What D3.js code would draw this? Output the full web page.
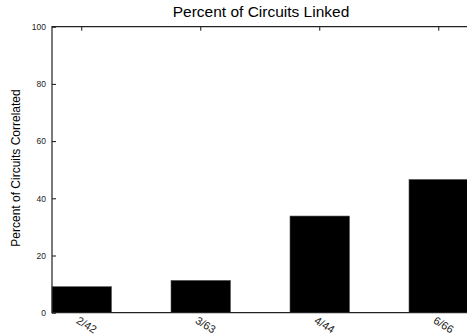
<!DOCTYPE html>
<html>
<head>
<meta charset="utf-8">
<script src="https://cdn.jsdelivr.net/npm/d3@7"></script>
<style>
  body { margin: 0; background: #fff; }
  text { font-family: "Liberation Sans", Arial, sans-serif; }
</style>
</head>
<body>
<div id="chart"></div>
<script>
// data
var labels = ['2/42', '3/63', '4/44', '6/66'];
var percent = [9.1, 11.3, 33.8, 46.6];
var yTicks = [0, 20, 40, 60, 80, 100];

var margin = {top: 26.7, right: 0, bottom: 22.3, left: 52},
    width = 416.5,
    height = 335 - margin.top - margin.bottom;

var svg = d3.select("#chart").append("svg")
    .attr("width", 467)
    .attr("height", 335)
  .append("g")
    .attr("transform", "translate(" + margin.left + "," + margin.top + ")");

var x = d3.scaleBand().domain(labels).range([0, width]).paddingInner(0.5).paddingOuter(0);
var y = d3.scaleLinear().domain([0, 100]).range([height, 0]);

// bars
svg.selectAll(".bar")
    .data(percent)
  .enter().append("rect")
    .attr("class", "bar")
    .attr("x", function(d, i) { return x(labels[i]); })
    .attr("width", x.bandwidth())
    .attr("y", function(d) { return y(d); })
    .attr("height", function(d) { return height - y(d); })
    .attr("fill", "#000")
    .attr("stroke", "#555")
    .attr("stroke-width", 0.6);

// left axis, ticks pointing inwards
var yAxis = svg.append("g")
    .call(d3.axisLeft(y).tickValues(yTicks).tickSizeInner(-4).tickSizeOuter(0).tickPadding(6));
yAxis.select(".domain").remove();
yAxis.selectAll("text").attr("font-size", "8.5px").attr("fill", "#222");
yAxis.selectAll("line").attr("stroke", "#111");

// top ticks at bar centres
var topAxis = svg.append("g")
    .call(d3.axisTop(x).tickSizeInner(-4).tickSizeOuter(0).tickFormat(""));
topAxis.select(".domain").remove();
topAxis.selectAll("line").attr("stroke", "#111");

// bottom labels, slanted
var xAxis = svg.append("g")
    .attr("transform", "translate(0," + height + ")")
    .call(d3.axisBottom(x).tickSize(0).tickPadding(0));
xAxis.select(".domain").remove();
xAxis.selectAll("text")
    .attr("font-size", "11px")
    .attr("fill", "#222")
    .attr("text-anchor", "start")
    .attr("dy", 0)
    .attr("transform", "translate(-2,3) rotate(32)")
    .attr("y", 0)
    .attr("x", 0)
    .attr("dominant-baseline", "hanging");

// border
svg.append("path")
    .attr("d", "M" + width + ",0H0V" + height + "H" + width)
    .attr("fill", "none")
    .attr("stroke", "#222")
    .attr("stroke-width", 1.2);

// title
svg.append("text")
    .attr("x", 261 - margin.left)
    .attr("y", -10)
    .attr("text-anchor", "middle")
    .attr("font-size", "15.5px")
    .text("Percent of Circuits Linked");

// y label
svg.append("text")
    .attr("transform", "translate(" + (20 - margin.left) + "," + (168 - margin.top) + ") rotate(-90)")
    .attr("text-anchor", "middle")
    .attr("font-size", "12px")
    .text("Percent of Circuits Correlated");
</script>
</body>
</html>
